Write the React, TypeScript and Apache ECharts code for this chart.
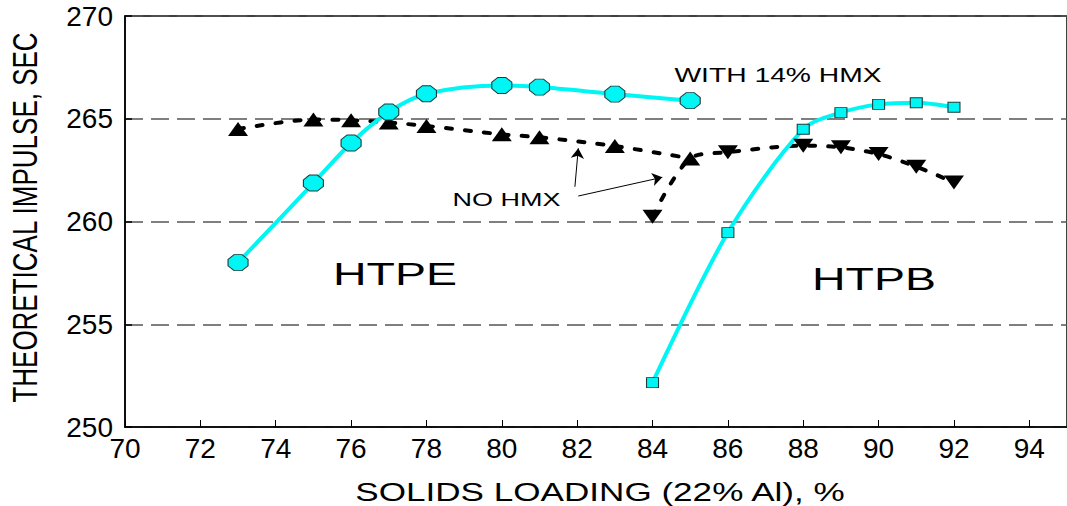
import React, { useEffect, useRef } from "react";
import * as echarts from "echarts";

// ---- data ----
const xHTPE = [73, 75, 76, 77, 78, 80, 81, 83, 85];
const yHTPE_HMX = [258.0, 261.87, 263.82, 265.33, 266.22, 266.62, 266.54, 266.2, 265.88];
const yHTPE_NoHMX = [264.5, 264.96, 264.93, 264.82, 264.65, 264.24, 264.1, 263.67, 263.07];

const xHTPB_HMX = [84, 86, 88, 89, 90, 91, 92];
const yHTPB_HMX = [252.16, 259.46, 264.49, 265.3, 265.7, 265.78, 265.56];

const xHTPB_NoHMX = [84, 85, 86, 88, 89, 90, 91, 92];
const yHTPB_NoHMX = [260.23, 263.07, 263.37, 263.69, 263.61, 263.28, 262.67, 261.9];
const markHTPB_NoHMX = [true, false, true, true, true, true, true, true];

// arrows from the "NO HMX" note (data coordinates: start, end)
const arrowStarts = [[81.94, 261.69], [82.03, 261.24]];
const arrowEnds = [[82.03, 263.56], [84.26, 262.15]];

const xMin = 70;
const xMax = 95;
const xStep = 2;
const yMin = 250;
const yMax = 270;
const yStep = 5;

const FONT = "'Liberation Sans', Arial, Helvetica, sans-serif";
const CYAN = "#00F5F5";
const OCTAGON = "path://M30,0 L70,0 L100,30 L100,70 L70,100 L30,100 L0,70 L0,30 Z";

function pairs(xs: number[], ys: number[]) {
  return xs.map((x, i) => [x, ys[i]]);
}

export default function App() {
  const ref = useRef<HTMLDivElement>(null);

  useEffect(() => {
    document.body.style.margin = "0";
    const chart = echarts.init(ref.current!, null, { renderer: "svg" });

    const option: any = {
      animation: false,
      backgroundColor: "#ffffff",
      grid: {
        left: 125,
        top: 16,
        right: -8,
        bottom: 79,
        show: true,
        borderColor: "#000",
        borderWidth: 1.5,
        backgroundColor: "transparent",
      },
      xAxis: {
        type: "value",
        min: xMin,
        max: xMax,
        interval: xStep,
        axisLine: { show: true, lineStyle: { color: "#000", width: 1.5 } },
        axisTick: { show: true, inside: true, length: 7, lineStyle: { color: "#000", width: 1 } },
        axisLabel: {
          color: "#000",
          fontFamily: FONT,
          fontSize: 28,
          margin: 7,
          showMaxLabel: false,
        },
        splitLine: { show: false },
      },
      yAxis: {
        type: "value",
        min: yMin,
        max: yMax,
        interval: yStep,
        axisLine: { show: true, lineStyle: { color: "#000", width: 1.5 } },
        axisTick: { show: true, inside: true, length: 7, lineStyle: { color: "#000", width: 1.5 } },
        axisLabel: {
          color: "#000",
          fontFamily: FONT,
          fontSize: 28,
          margin: 12,
        },
        splitLine: {
          show: true,
          lineStyle: { color: "#555", width: 1.5, type: [18, 8] },
        },
      },
      graphic: [
        {
          type: "text",
          x: 25.5,
          y: 217.5,
          rotation: Math.PI / 2,
          scaleY: 1.35,
          style: {
            text: "THEORETICAL IMPULSE, SEC",
            font: `26px ${FONT}`,
            fill: "#000",
            align: "center",
            verticalAlign: "middle",
          },
        },
        {
          type: "text",
          x: 600,
          y: 492.5,
          scaleX: 1.35,
          style: {
            text: "SOLIDS LOADING (22% Al), %",
            font: `26px ${FONT}`,
            fill: "#000",
            align: "center",
            verticalAlign: "middle",
          },
        },
        {
          type: "text",
          x: 395,
          y: 274,
          scaleX: 1.5,
          style: {
            text: "HTPE",
            font: `31px ${FONT}`,
            fill: "#000",
            align: "center",
            verticalAlign: "middle",
          },
        },
        {
          type: "text",
          x: 874,
          y: 279,
          scaleX: 1.5,
          style: {
            text: "HTPB",
            font: `31px ${FONT}`,
            fill: "#000",
            align: "center",
            verticalAlign: "middle",
          },
        },
        {
          type: "text",
          x: 778,
          y: 74.7,
          scaleX: 1.45,
          style: {
            text: "WITH 14% HMX",
            font: `19.5px ${FONT}`,
            fill: "#000",
            align: "center",
            verticalAlign: "middle",
          },
        },
        {
          type: "text",
          x: 506.5,
          y: 199.5,
          scaleX: 1.5,
          style: {
            text: "NO HMX",
            font: `18px ${FONT}`,
            fill: "#000",
            align: "center",
            verticalAlign: "middle",
          },
        },
      ],
      series: [
        {
          name: "HTPE no HMX",
          type: "line",
          data: pairs(xHTPE, yHTPE_NoHMX),
          smooth: 0.3,
          symbol: "triangle",
          symbolSize: [20, 14],
          itemStyle: { color: "#000", borderWidth: 0 },
          lineStyle: { color: "#000", width: 4, type: [6, 13], cap: "round" },
          markLine: {
            silent: true,
            symbol: ["none", "arrow"],
            symbolSize: 10,
            label: { show: false },
            lineStyle: { color: "#000", width: 1, type: "solid" },
            data: arrowStarts.map((s, i) => [{ coord: s }, { coord: arrowEnds[i] }]),
          },
        },
        {
          name: "HTPB no HMX",
          type: "line",
          data: xHTPB_NoHMX.map((x, i) =>
            markHTPB_NoHMX[i]
              ? { value: [x, yHTPB_NoHMX[i]] }
              : { value: [x, yHTPB_NoHMX[i]], symbol: "none" }
          ),
          smooth: 0.3,
          symbol: "triangle",
          symbolRotate: 180,
          symbolSize: [20, 14],
          itemStyle: { color: "#000", borderWidth: 0 },
          lineStyle: { color: "#000", width: 4, type: [6, 13], cap: "round" },
        },
        {
          name: "HTPE with 14% HMX",
          type: "line",
          data: pairs(xHTPE, yHTPE_HMX),
          smooth: 0.3,
          symbol: OCTAGON,
          symbolSize: [20, 16],
          itemStyle: { color: CYAN, borderColor: "#1d3b3b", borderWidth: 1 },
          lineStyle: { color: CYAN, width: 4 },
        },
        {
          name: "HTPB with 14% HMX",
          type: "line",
          data: pairs(xHTPB_HMX, yHTPB_HMX),
          smooth: 0.3,
          symbol: "rect",
          symbolSize: [12, 10],
          itemStyle: { color: CYAN, borderColor: "#1d3b3b", borderWidth: 1 },
          lineStyle: { color: CYAN, width: 4 },
        },
      ],
    };

    chart.setOption(option);
    return () => chart.dispose();
  }, []);

  return <div ref={ref} style={{ width: 1067, height: 506 }} />;
}
